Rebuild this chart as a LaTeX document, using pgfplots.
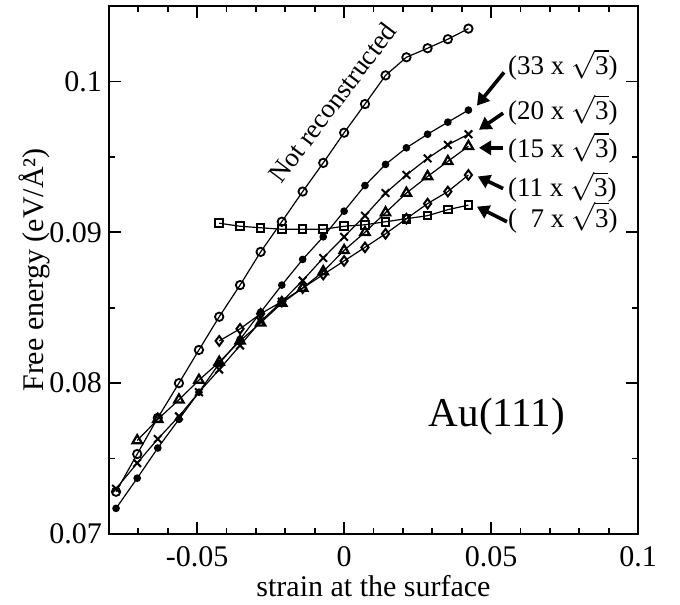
\documentclass[border=0pt]{standalone}
\usepackage{pgfplots}
\pgfplotsset{compat=1.18}
\usepackage{fontspec}
\setmainfont{Liberation Serif}
\usetikzlibrary{arrows.meta}

\newcommand{\rt}{$\sqrt{\mbox{3}}$}

\begin{document}
\begin{tikzpicture}
\useasboundingbox (-54.5bp,-35.5bp) rectangle (285.5bp,267bp);
\begin{axis}[
    scale only axis,
    width=264.5bp, height=264bp,
    xmin=-0.08, xmax=0.1,
    ymin=0.07, ymax=0.105,
    xtick={-0.05,0,0.05,0.1},
    xticklabels={-0.05,0,0.05,0.1},
    minor xtick={-0.07,-0.06,-0.04,-0.03,-0.02,-0.01,0.01,0.02,0.03,0.04,0.06,0.07,0.08,0.09},
    ytick={0.07,0.08,0.09,0.1},
    yticklabels={0.07,0.08,0.09,0.1},
    minor ytick={0.075,0.085,0.095},
    major tick length=6bp, minor tick length=3bp,
    tick align=inside,
    xtick pos=both, ytick pos=both,
    every tick/.style={black, line width=0.9bp},
    axis line style={line width=1bp},
    tick label style={font=\fontsize{15bp}{18bp}\selectfont},
    xticklabel shift=3bp,
    label style={font=\fontsize{15bp}{18bp}\selectfont},
    xlabel={strain at the surface},
    xlabel shift=-3bp,
    ylabel={Free energy (eV/Å²)},
    ylabel shift=-7bp,
    every axis plot/.append style={black, line width=0.6bp},
]
% Not reconstructed
\addplot[mark=o, mark size=2.1bp, mark options={line width=0.9bp}] coordinates {
 (-0.0776,0.0728) (-0.0704,0.0753) (-0.0634,0.0777) (-0.0562,0.0800) (-0.0494,0.0822)
 (-0.0425,0.0844) (-0.0354,0.0865) (-0.0284,0.0887) (-0.0212,0.0907) (-0.0141,0.0927)
 (-0.0071,0.0946) (0.0000,0.0966) (0.0071,0.0985) (0.0141,0.1004) (0.0212,0.1016)
 (0.0284,0.1022) (0.0353,0.1028) (0.0423,0.1035)
};
% 33 x sqrt3
\addplot[mark=*, mark size=1.6bp] coordinates {
 (-0.0776,0.0717) (-0.0704,0.0737) (-0.0634,0.0757) (-0.0562,0.0776) (-0.0494,0.0794)
 (-0.0425,0.0813) (-0.0354,0.0829) (-0.0284,0.0847) (-0.0212,0.0865) (-0.0141,0.0882)
 (-0.0071,0.0897) (0.0000,0.0914) (0.0071,0.0931) (0.0141,0.0945) (0.0212,0.0956)
 (0.0284,0.0965) (0.0353,0.0973) (0.0423,0.0981)
};
% 20 x sqrt3
\addplot[mark=x, mark size=2.7bp, mark options={line width=1bp}] coordinates {
 (-0.0776,0.0730) (-0.0704,0.0747) (-0.0634,0.0763) (-0.0562,0.0778) (-0.0494,0.0794)
 (-0.0425,0.0809) (-0.0354,0.0825) (-0.0284,0.0841) (-0.0212,0.0854) (-0.0141,0.0868)
 (-0.0071,0.0883) (0.0000,0.0897) (0.0071,0.0911) (0.0141,0.0926) (0.0212,0.0938)
 (0.0284,0.0949) (0.0353,0.0958) (0.0423,0.0965)
};
% 15 x sqrt3
\addplot[mark=triangle, mark size=2.7bp, mark options={line width=1.1bp}] coordinates {
 (-0.0704,0.0762) (-0.0634,0.0776) (-0.0562,0.0789) (-0.0494,0.0802)
 (-0.0425,0.0814) (-0.0354,0.0828) (-0.0284,0.0840) (-0.0212,0.0853) (-0.0141,0.0863)
 (-0.0071,0.0874) (0.0000,0.0888) (0.0071,0.0900) (0.0141,0.0913) (0.0212,0.0926)
 (0.0284,0.0937) (0.0353,0.0947) (0.0423,0.0957)
};
% 11 x sqrt3
\addplot[mark=diamond, mark size=2.4bp, mark options={line width=1bp}] coordinates {
 (-0.0425,0.0828) (-0.0354,0.0836) (-0.0284,0.0846) (-0.0212,0.0854) (-0.0141,0.0863)
 (-0.0071,0.0872) (0.0000,0.0881) (0.0071,0.0890) (0.0141,0.0899) (0.0212,0.0909)
 (0.0284,0.0919) (0.0353,0.0927) (0.0423,0.0938)
};
% 7 x sqrt3
\addplot[mark=square, mark size=1.9bp, mark options={line width=1bp}] coordinates {
 (-0.0425,0.0906) (-0.0354,0.0904) (-0.0284,0.0903) (-0.0212,0.0902) (-0.0141,0.0902)
 (-0.0071,0.0902) (0.0000,0.0904) (0.0071,0.0905) (0.0141,0.0907) (0.0212,0.0909)
 (0.0284,0.0911) (0.0353,0.0915) (0.0423,0.0918)
};

% arrows and labels
\begin{scope}[line width=1.8bp, -{Triangle[length=6bp,width=7bp]}]
\draw (axis cs:0.0544,0.1006) -- (axis cs:0.0452,0.0984);
\draw (axis cs:0.0541,0.0979) -- (axis cs:0.0459,0.0968);
\draw (axis cs:0.0541,0.0956) -- (axis cs:0.0459,0.0956);
\draw (axis cs:0.0541,0.0929) -- (axis cs:0.0455,0.0937);
\draw (axis cs:0.0554,0.0907) -- (axis cs:0.0452,0.0917);
\end{scope}
\begin{scope}[every node/.style={anchor=west, inner sep=0pt, font=\fontsize{13.5bp}{16bp}\selectfont}]
\node at (axis cs:0.0557,0.1011) {(33 x \rt)};
\node at (axis cs:0.0557,0.0981) {(20 x \rt)};
\node at (axis cs:0.0557,0.0956) {(15 x \rt)};
\node at (axis cs:0.0557,0.0930) {(11 x \rt)};
\node at (axis cs:0.0557,0.0910) {(\phantom{1}7 x \rt)};
\end{scope}
\node[rotate=52.8, font=\fontsize{13.5bp}{16bp}\selectfont] at (axis cs:-0.0040,0.0986) {Not reconstructed};
\node[font=\fontsize{20.5bp}{24bp}\selectfont] at (axis cs:0.052,0.0778) {Au(111)};
\end{axis}
\end{tikzpicture}
\end{document}
